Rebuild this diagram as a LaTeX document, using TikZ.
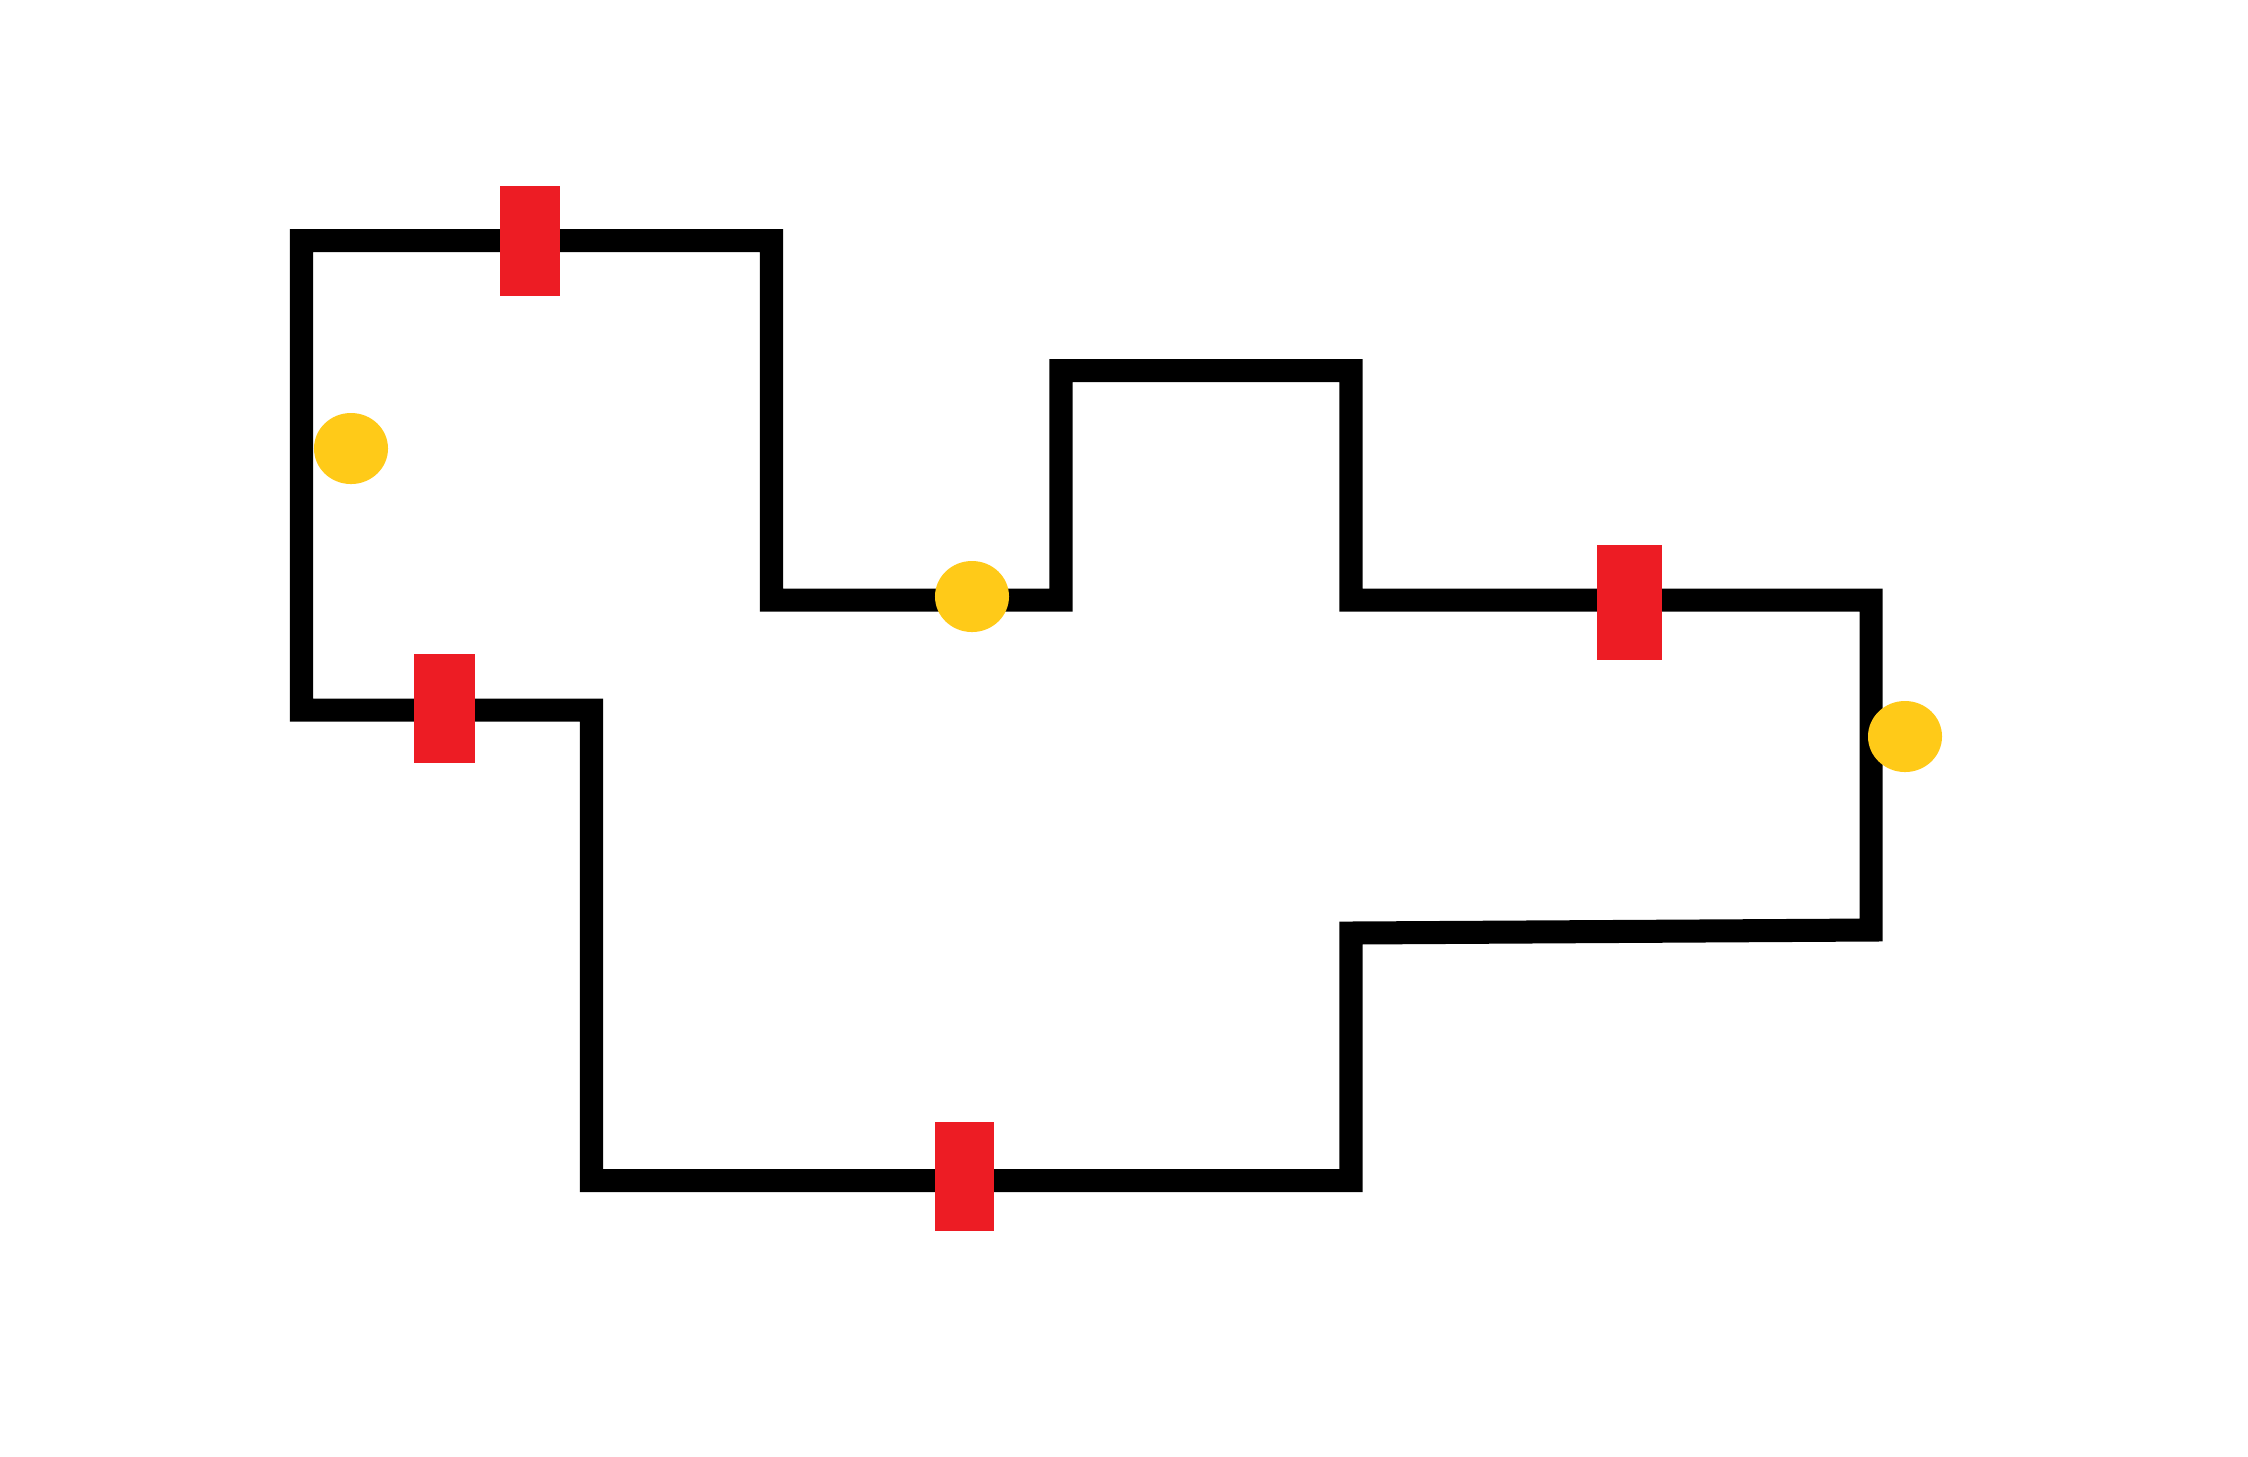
\documentclass[tikz,border=0pt]{standalone}
\usetikzlibrary{shapes.geometric}
\definecolor{pred}{HTML}{ED1C24}
\definecolor{pyel}{HTML}{FFCA18}
\begin{document}
\begin{tikzpicture}[x=0.01cm,y=-0.01cm,
  wall/.style={line width=6.55pt,line join=miter,black},
  redbar/.style={rectangle,fill=pred,draw=none,inner sep=0pt},
  dot/.style={ellipse,fill=pyel,draw=none,inner sep=0pt,minimum width=7.4mm,minimum height=7.1mm}]
\useasboundingbox[fill=white] (0,0) rectangle (2248,1456);
\coordinate (p1) at (301.5,240.5);
\coordinate (p2) at (771.5,240.5);
\coordinate (p3) at (771.5,600);
\coordinate (p4) at (1061,600);
\coordinate (p5) at (1061,370.5);
\coordinate (p6) at (1351,370.5);
\coordinate (p7) at (1351,600);
\coordinate (p8) at (1871,600);
\coordinate (p9) at (1871,930);
\coordinate (p10) at (1351,933);
\coordinate (p11) at (1351,1180.5);
\coordinate (p12) at (591.5,1180.5);
\coordinate (p13) at (591.5,710);
\coordinate (p14) at (301.5,710);
\draw[wall] (p1) -- (p2) -- (p3) -- (p4) -- (p5) -- (p6) -- (p7) -- (p8) -- (p9) -- (p10) -- (p11) -- (p12) -- (p13) -- (p14) -- cycle;
\node[redbar,minimum width=6.05mm,minimum height=11.05mm] (r1) at (529.8,241) {};
\node[redbar,minimum width=6.05mm,minimum height=10.9mm] (r2) at (444.3,708.4) {};
\node[redbar,minimum width=5.95mm,minimum height=10.9mm] (r3) at (964.5,1176.5) {};
\node[redbar,minimum width=6.5mm,minimum height=11.5mm] (r4) at (1629.5,602.5) {};
\node[dot] (c1) at (351,448.5) {};
\node[dot] (c2) at (972,596.5) {};
\node[dot] (c3) at (1905,736.5) {};
\end{tikzpicture}
\end{document}
